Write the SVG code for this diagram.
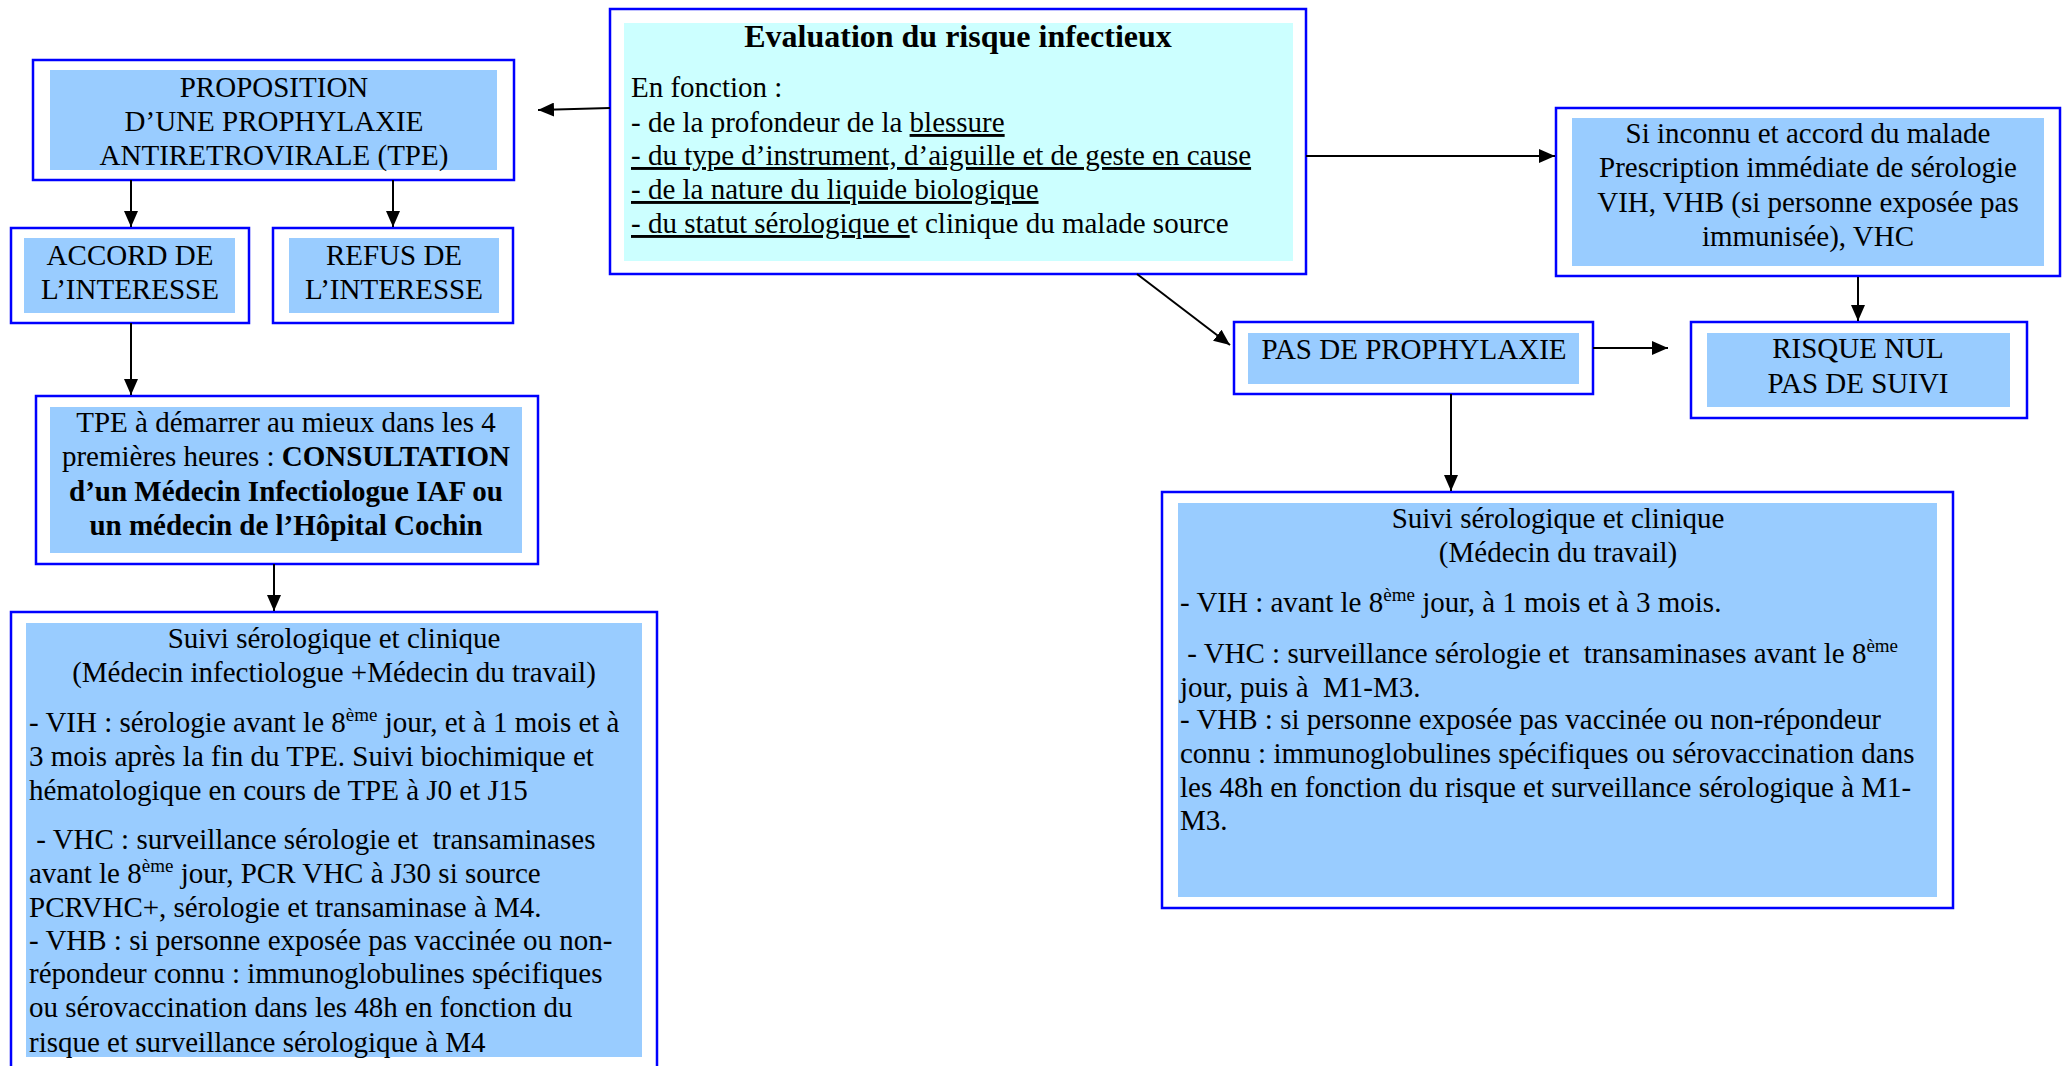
<svg xmlns="http://www.w3.org/2000/svg" width="2068" height="1066" viewBox="0 0 2068 1066">
<style>
text{font-family:"Liberation Serif","Times New Roman",serif;font-size:29px;fill:#000}
.c{text-anchor:middle}
.b{font-weight:bold}
.pre{white-space:pre}
.outer{fill:#fff;stroke:#0000ff;stroke-width:2.5}
.inner{fill:#99ccff}
.innerc{fill:#ccffff}
.con line{stroke:#000;stroke-width:2;marker-end:url(#ah)}
</style>
<defs>
<marker id="ah" viewBox="0 0 16 14" refX="16" refY="7" markerWidth="16" markerHeight="14" markerUnits="userSpaceOnUse" orient="auto">
<path d="M0,0 L16,7 L0,14 z" fill="#000"/>
</marker>
</defs>
<rect width="2068" height="1066" fill="#fff"/>

<g id="eval">
<rect class="outer" x="610" y="9" width="696" height="265"/>
<rect class="innerc" x="624" y="23" width="669" height="238"/>
<text class="c b" x="958" y="47" font-size="32" style="font-size:32px">Evaluation du risque infectieux</text>
<text x="631" y="97">En fonction :</text>
<text x="631" y="132">- de la profondeur de la <tspan text-decoration="underline">blessure</tspan></text>
<text x="631" y="165" text-decoration="underline">- du type d’instrument, d’aiguille et de geste en cause</text>
<text x="631" y="199" text-decoration="underline">- de la nature du liquide biologique</text>
<text x="631" y="233"><tspan text-decoration="underline">- du statut sérologique e</tspan>t clinique du malade source</text>
</g>

<g id="proposition">
<rect class="outer" x="33" y="60" width="481" height="120"/>
<rect class="inner" x="50" y="70" width="447" height="100"/>
<text class="c" x="274" y="97">PROPOSITION</text>
<text class="c" x="274" y="131">D’UNE PROPHYLAXIE</text>
<text class="c" x="274" y="165">ANTIRETROVIRALE (TPE)</text>
</g>

<g id="accord">
<rect class="outer" x="11" y="228" width="238" height="95"/>
<rect class="inner" x="24" y="238" width="211" height="75"/>
<text class="c" x="130" y="265">ACCORD DE</text>
<text class="c" x="130" y="299">L’INTERESSE</text>
</g>

<g id="refus">
<rect class="outer" x="273" y="228" width="240" height="95"/>
<rect class="inner" x="289" y="238" width="210" height="75"/>
<text class="c" x="394" y="265">REFUS DE</text>
<text class="c" x="394" y="299">L’INTERESSE</text>
</g>

<g id="tpe">
<rect class="outer" x="36" y="396" width="502" height="168"/>
<rect class="inner" x="50" y="407" width="472" height="146"/>
<text class="c" x="286" y="432">TPE à démarrer au mieux dans les 4</text>
<text class="c" x="286" y="466">premières heures : <tspan class="b">CONSULTATION</tspan></text>
<text class="c b" x="286" y="501">d’un Médecin Infectiologue IAF ou</text>
<text class="c b" x="286" y="535">un médecin de l’Hôpital Cochin</text>
</g>

<g id="suivi-gauche">
<rect class="outer" x="11" y="612" width="646" height="460"/>
<rect class="inner" x="26" y="623" width="616" height="434"/>
<text class="c" x="334" y="648">Suivi sérologique et clinique</text>
<text class="c" x="334" y="682">(Médecin infectiologue +Médecin du travail)</text>
<text x="29" y="732">- VIH : sérologie avant le 8<tspan dy="-11" font-size="19" style="font-size:19px">ème</tspan><tspan dy="11"> jour, et à 1 mois et à</tspan></text>
<text x="29" y="766">3 mois après la fin du TPE. Suivi biochimique et</text>
<text x="29" y="800">hématologique en cours de TPE à J0 et J15</text>
<text class="pre" x="29" y="849"> - VHC : surveillance sérologie et  transaminases</text>
<text x="29" y="883">avant le 8<tspan dy="-11" font-size="19" style="font-size:19px">ème</tspan><tspan dy="11"> jour, PCR VHC à J30 si source</tspan></text>
<text x="29" y="917">PCRVHC+, sérologie et transaminase à M4.</text>
<text x="29" y="950">- VHB : si personne exposée pas vaccinée ou non-</text>
<text x="29" y="983">répondeur connu : immunoglobulines spécifiques</text>
<text x="29" y="1017">ou sérovaccination dans les 48h en fonction du</text>
<text x="29" y="1052">risque et surveillance sérologique à M4</text>
</g>

<g id="si-inconnu">
<rect class="outer" x="1556" y="108" width="504" height="168"/>
<rect class="inner" x="1572" y="118" width="472" height="148"/>
<text class="c" x="1808" y="143">Si inconnu et accord du malade</text>
<text class="c" x="1808" y="177">Prescription immédiate de sérologie</text>
<text class="c" x="1808" y="212">VIH, VHB (si personne exposée pas</text>
<text class="c" x="1808" y="246">immunisée), VHC</text>
</g>

<g id="pas-de-prophylaxie">
<rect class="outer" x="1234" y="322" width="359" height="72"/>
<rect class="inner" x="1248" y="333" width="331" height="51"/>
<text class="c" x="1414" y="359">PAS DE PROPHYLAXIE</text>
</g>

<g id="risque-nul">
<rect class="outer" x="1691" y="322" width="336" height="96"/>
<rect class="inner" x="1707" y="333" width="303" height="74"/>
<text class="c" x="1858" y="358">RISQUE NUL</text>
<text class="c" x="1858" y="393">PAS DE SUIVI</text>
</g>

<g id="suivi-droite">
<rect class="outer" x="1162" y="492" width="791" height="416"/>
<rect class="inner" x="1178" y="503" width="759" height="394"/>
<text class="c" x="1558" y="528">Suivi sérologique et clinique</text>
<text class="c" x="1558" y="562">(Médecin du travail)</text>
<text x="1180" y="612">- VIH : avant le 8<tspan dy="-11" font-size="19" style="font-size:19px">ème</tspan><tspan dy="11"> jour, à 1 mois et à 3 mois.</tspan></text>
<text class="pre" x="1180" y="663"> - VHC : surveillance sérologie et  transaminases avant le 8<tspan dy="-11" font-size="19" style="font-size:19px">ème</tspan></text>
<text class="pre" x="1180" y="697">jour, puis à  M1-M3.</text>
<text x="1180" y="729">- VHB : si personne exposée pas vaccinée ou non-répondeur</text>
<text x="1180" y="763">connu : immunoglobulines spécifiques ou sérovaccination dans</text>
<text x="1180" y="797">les 48h en fonction du risque et surveillance sérologique à M1-</text>
<text x="1180" y="830">M3.</text>
</g>

<g id="connectors" class="con">
<line x1="610" y1="108" x2="538" y2="110"/>
<line x1="131" y1="180" x2="131" y2="227"/>
<line x1="393" y1="180" x2="393" y2="227"/>
<line x1="131" y1="323" x2="131" y2="395"/>
<line x1="274" y1="564" x2="274" y2="611"/>
<line x1="1306" y1="156" x2="1555" y2="156"/>
<line x1="1137" y1="274" x2="1230" y2="345"/>
<line x1="1593" y1="348" x2="1668" y2="348"/>
<line x1="1858" y1="277" x2="1858" y2="321"/>
<line x1="1451" y1="394" x2="1451" y2="491"/>
</g>
</svg>
